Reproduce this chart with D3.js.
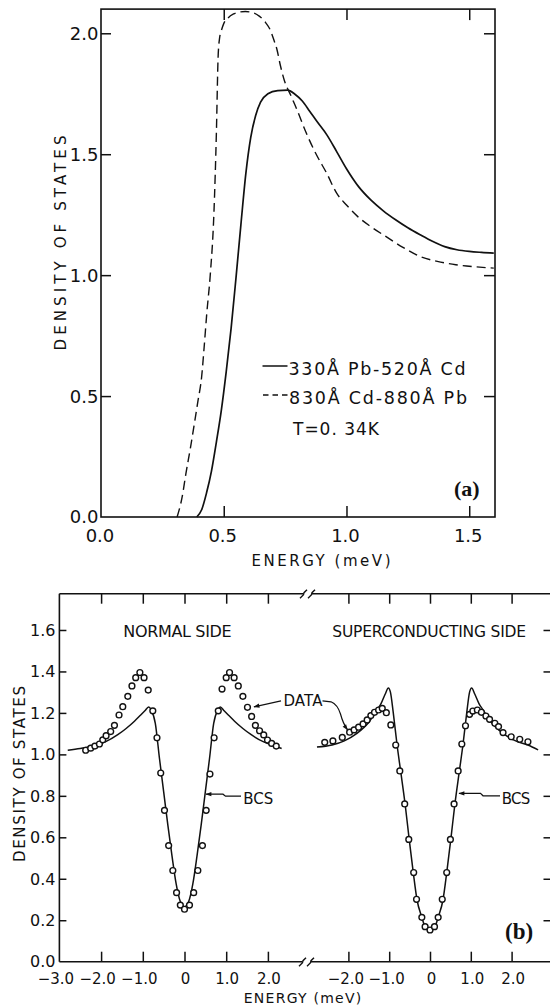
<!DOCTYPE html>
<html><head><meta charset="utf-8">
<script src="https://cdn.jsdelivr.net/npm/d3@7"></script>
<style>
html,body{margin:0;padding:0;background:#fff;}
svg{display:block;}
text{font-family:"DejaVu Sans",sans-serif;fill:#111;}
</style></head><body>
<svg id="chart" width="550" height="1005"></svg>
<script>
// ---------------- Panel (a) data ----------------
const aSolidEnergy = [0.39,0.41,0.43,0.45,0.47,0.49,0.51,0.53,0.55,0.57,0.59,0.61,0.63,0.65,0.68,0.72,0.76,0.79,0.82,0.85,0.88,0.92,0.96,1.00,1.05,1.10,1.15,1.20,1.25,1.30,1.35,1.40,1.45,1.50,1.55,1.60];
const aSolidDos    = [0,0.03,0.10,0.19,0.31,0.44,0.60,0.78,0.99,1.21,1.42,1.57,1.66,1.715,1.75,1.763,1.765,1.748,1.72,1.678,1.635,1.58,1.511,1.44,1.365,1.31,1.266,1.229,1.196,1.167,1.14,1.118,1.105,1.098,1.094,1.091];
const aDashedEnergy = [0.31,0.33,0.346,0.365,0.381,0.395,0.41,0.42,0.431,0.445,0.46,0.47,0.477,0.483,0.49,0.50,0.517,0.54,0.56,0.588,0.62,0.646,0.67,0.689,0.705,0.717,0.73,0.746,0.775,0.80,0.831,0.874,0.92,0.96,1.00,1.046,1.10,1.16,1.23,1.30,1.37,1.445,1.52,1.60];
const aDashedDos    = [0,0.08,0.18,0.29,0.39,0.48,0.58,0.70,0.843,1.0,1.257,1.587,1.90,1.98,2.01,2.04,2.063,2.08,2.087,2.09,2.085,2.07,2.045,2.015,1.97,1.932,1.87,1.808,1.739,1.68,1.60,1.505,1.42,1.339,1.29,1.242,1.20,1.16,1.115,1.077,1.057,1.043,1.035,1.029];
const aXTickValues = [0.5, 1.0, 1.5];
const aXLabelValues = [0.0, 0.5, 1.0, 1.5];
const aYTickValues = [0.5, 1.0, 1.5, 2.0];
const aYLabelValues = [0.0, 0.5, 1.0, 1.5, 2.0];
const aLegendLabels = ["330Å Pb-520Å Cd", "830Å Cd-880Å Pb"];
const aTemperatureLabel = "T=0. 34K";

// ---------------- Panel (b) data ----------------
const bNormalBcsEnergy = [-2.8,-2.5,-2.2,-1.9,-1.6,-1.4,-1.2,-1.05,-0.95,-0.86,-0.8,-0.7,-0.6,-0.5,-0.4,-0.3,-0.2,-0.1,0,0.1,0.2,0.3,0.4,0.5,0.6,0.7,0.8,0.86,0.95,1.05,1.2,1.4,1.6,1.9,2.1,2.33];
const bNormalBcsDos    = [1.02,1.028,1.04,1.06,1.095,1.125,1.16,1.19,1.21,1.228,1.215,1.15,0.98,0.82,0.66,0.51,0.375,0.29,0.265,0.29,0.375,0.51,0.66,0.82,0.98,1.15,1.215,1.228,1.21,1.19,1.16,1.125,1.095,1.06,1.045,1.028];
const bNormalDataEnergy = [-2.37,-2.25,-2.15,-2.04,-1.96,-1.88,-1.77,-1.68,-1.57,-1.48,-1.36,-1.26,-1.17,-1.07,-0.97,-0.87,-0.76,-0.66,-0.57,-0.48,-0.38,-0.28,-0.19,-0.10,0.0,0.12,0.22,0.32,0.43,0.52,0.61,0.71,0.81,0.90,1.00,1.08,1.19,1.29,1.40,1.51,1.61,1.70,1.80,1.90,1.99,2.09,2.20];
const bNormalDataDos    = [1.02,1.03,1.04,1.05,1.07,1.09,1.11,1.14,1.19,1.23,1.28,1.33,1.37,1.395,1.37,1.31,1.21,1.08,0.91,0.73,0.56,0.44,0.333,0.273,0.253,0.273,0.333,0.44,0.56,0.73,0.905,1.08,1.21,1.315,1.37,1.395,1.37,1.33,1.28,1.227,1.183,1.14,1.114,1.094,1.069,1.053,1.04];
const bSuperBcsEnergy = [-2.77,-2.4,-2.1,-1.8,-1.5,-1.3,-1.2,-1.1,-1.02,-0.97,-0.9,-0.81,-0.72,-0.61,-0.51,-0.41,-0.32,-0.2,-0.12,0,0.12,0.2,0.32,0.41,0.51,0.61,0.72,0.81,0.9,0.97,1.02,1.1,1.2,1.3,1.5,1.8,2.1,2.4,2.65];
const bSuperBcsDos    = [1.035,1.045,1.065,1.10,1.155,1.215,1.245,1.29,1.32,1.30,1.20,1.05,0.92,0.76,0.59,0.43,0.30,0.214,0.169,0.153,0.169,0.214,0.30,0.43,0.59,0.76,0.92,1.05,1.20,1.30,1.32,1.29,1.245,1.215,1.155,1.10,1.065,1.045,1.022];
const bSuperDataEnergy = [-2.58,-2.38,-2.15,-1.97,-1.86,-1.75,-1.64,-1.54,-1.45,-1.36,-1.26,-1.17,-1.07,-0.96,-0.84,-0.74,-0.62,-0.52,-0.40,-0.33,-0.20,-0.12,0.0,0.11,0.20,0.30,0.41,0.50,0.59,0.69,0.78,0.87,0.97,1.05,1.16,1.26,1.37,1.46,1.59,1.68,1.79,1.99,2.20,2.40];
const bSuperDataDos    = [1.058,1.065,1.082,1.107,1.118,1.131,1.147,1.166,1.187,1.203,1.214,1.222,1.201,1.142,1.045,0.92,0.761,0.59,0.43,0.301,0.214,0.169,0.153,0.169,0.214,0.301,0.43,0.59,0.761,0.92,1.05,1.138,1.193,1.209,1.214,1.203,1.185,1.169,1.15,1.134,1.105,1.085,1.073,1.061];
const bYTickValues = [0.2,0.4,0.6,0.8,1.0,1.2,1.4,1.6];
const bYLabelValues = [0.0,0.2,0.4,0.6,0.8,1.0,1.2,1.4,1.6];
const bXTickValues = [-2,-1,0,1,2];
const bXLeftLabelValues = [-3,-2,-1,0,1,2];
const bXRightLabelValues = [-2,-1,0,1,2];
const bSideLabels = ["NORMAL SIDE", "SUPERCONDUCTING SIDE"];

// ---------------- Drawing ----------------
const svg = d3.select("#chart");
const INK = "#111";
const zip = (xs, ys) => xs.map((x, i) => [x, ys[i]]);
const fmt1 = d3.format(".1f");

svg.append("defs").append("marker")
  .attr("id","arrow").attr("viewBox","0 0 10 10").attr("refX",9).attr("refY",5)
  .attr("markerWidth",7).attr("markerHeight",6).attr("orient","auto-start-reverse")
  .attr("markerUnits","userSpaceOnUse")
  .append("path").attr("d","M0,1.5 L10,5 L0,8.5 Z").attr("fill",INK);

function cleanAxis(g){ g.select(".domain").remove(); g.selectAll("line").attr("stroke",INK).attr("stroke-width",1.5); g.selectAll("text").remove(); }

// ===== Panel (a) =====
const xa = d3.scaleLinear().domain([0, 1.605]).range([101, 495]);
const ya = d3.scaleLinear().domain([0, 2.1]).range([517, 9.1]);
const gA = svg.append("g");

gA.append("rect").attr("x", xa(0)).attr("y", ya(2.1))
  .attr("width", xa(1.605) - xa(0)).attr("height", ya(0) - ya(2.1))
  .attr("fill","none").attr("stroke",INK).attr("stroke-width",1.6);

gA.append("g").attr("transform",`translate(${xa(0)},0)`)
  .call(d3.axisRight(ya).tickValues(aYTickValues).tickSize(10).tickFormat("")).call(cleanAxis);
gA.append("g").attr("transform",`translate(${xa(1.605)},0)`)
  .call(d3.axisLeft(ya).tickValues(aYTickValues).tickSize(11).tickFormat("")).call(cleanAxis);
gA.append("g").attr("transform",`translate(0,${ya(0)})`)
  .call(d3.axisTop(xa).tickValues(aXTickValues).tickSize(11).tickFormat("")).call(cleanAxis);
gA.append("g").attr("transform",`translate(0,${ya(2.1)})`)
  .call(d3.axisBottom(xa).tickValues(aXTickValues).tickSize(11).tickFormat("")).call(cleanAxis);

gA.selectAll("text.ylab").data(aYLabelValues).join("text")
  .attr("x", 98.5).attr("y", d => ya(d)).attr("dy","0.36em")
  .attr("text-anchor","end").attr("font-size",18).text(d => fmt1(d));
gA.selectAll("text.xlab").data(aXLabelValues).join("text")
  .attr("x", d => xa(d) - 1).attr("y", 541.5)
  .attr("text-anchor","middle").attr("font-size",18).text(d => fmt1(d));

gA.append("text").attr("x", 321).attr("y", 566).attr("text-anchor","middle")
  .attr("font-size",15).attr("textLength",139).attr("lengthAdjust","spacing").text("ENERGY  (meV)");
gA.append("text").attr("transform","translate(66,243) rotate(-90)").attr("text-anchor","middle")
  .attr("font-size",15).attr("textLength",215).attr("lengthAdjust","spacing").text("DENSITY  OF  STATES");

const lineA = d3.line().x(d => xa(d[0])).y(d => ya(d[1])).curve(d3.curveMonotoneX);
gA.append("path").attr("d", lineA(zip(aSolidEnergy, aSolidDos)))
  .attr("fill","none").attr("stroke",INK).attr("stroke-width",1.7);
gA.append("path").attr("d", lineA(zip(aDashedEnergy, aDashedDos)))
  .attr("fill","none").attr("stroke",INK).attr("stroke-width",1.4).attr("stroke-dasharray","9,5");

// legend
gA.append("line").attr("x1",262.5).attr("x2",287.5).attr("y1",366).attr("y2",366)
  .attr("stroke",INK).attr("stroke-width",1.5);
gA.append("text").attr("x",288.5).attr("y",375).attr("font-size",17.5)
  .attr("textLength",177).attr("lengthAdjust","spacing").text(aLegendLabels[0]);
gA.append("line").attr("x1",263).attr("x2",288).attr("y1",395).attr("y2",395)
  .attr("stroke",INK).attr("stroke-width",1.4).attr("stroke-dasharray","5.5,4");
gA.append("text").attr("x",289).attr("y",403.5).attr("font-size",17.5)
  .attr("textLength",178).attr("lengthAdjust","spacing").text(aLegendLabels[1]);
gA.append("text").attr("x",293).attr("y",435).attr("font-size",17)
  .attr("textLength",86).attr("lengthAdjust","spacing").text(aTemperatureLabel);
gA.append("text").attr("x",454).attr("y",496).attr("font-size",22)
  .style("font-family","'Liberation Serif',serif").attr("font-weight","bold").text("(a)");

// ===== Panel (b) =====
const xbl = d3.scaleLinear().domain([-3, 3]).range([59.4, 309.6]);
const xbr = d3.scaleLinear().domain([-3, 3]).range([307.6, 552.4]);
const yb = d3.scaleLinear().domain([0, 1.775]).range([961.7, 593.7]);
const gB = svg.append("g");
const yTop = yb(1.775), yBot = yb(0), xLeft = xbl(-3), xRight = 551.5;

// frame pieces (with axis break)
const frame = [
  [xLeft, yTop, xLeft, yBot],
  [xLeft, yTop, 303.5, yTop], [312, yTop, xRight, yTop],
  [xLeft, yBot, 302, yBot], [311, yBot, xRight, yBot],
  [xRight, yTop, xRight, yBot]
];
gB.selectAll("line.frame").data(frame).join("line")
  .attr("x1", d => d[0]).attr("y1", d => d[1]).attr("x2", d => d[2]).attr("y2", d => d[3])
  .attr("stroke",INK).attr("stroke-width",1.6);
// break marks
function breakMarks(cx, cy){
  [cx - 4.5, cx + 3.5].forEach(x => {
    gB.append("path").attr("d", `M${x-3.5},${cy+4.5} L${x},${cy+1} L${x+0.5},${cy-1} L${x+3.5},${cy-4}`)
      .attr("fill","none").attr("stroke",INK).attr("stroke-width",1.4);
  });
}
breakMarks(308, yTop);
breakMarks(307, yBot);

gB.append("g").attr("transform",`translate(${xLeft},0)`)
  .call(d3.axisRight(yb).tickValues(bYTickValues).tickSize(7).tickFormat("")).call(cleanAxis);
gB.append("g").attr("transform",`translate(${xRight},0)`)
  .call(d3.axisLeft(yb).tickValues(bYTickValues).tickSize(8).tickFormat("")).call(cleanAxis);
[xbl, xbr].forEach(sc => {
  gB.append("g").attr("transform",`translate(0,${yBot})`)
    .call(d3.axisTop(sc).tickValues(bXTickValues).tickSize(10).tickFormat("")).call(cleanAxis);
  gB.append("g").attr("transform",`translate(0,${yTop})`)
    .call(d3.axisBottom(sc).tickValues(bXTickValues).tickSize(10).tickFormat("")).call(cleanAxis);
});

gB.selectAll("text.ylab").data(bYLabelValues).join("text")
  .attr("x", 55.5).attr("y", d => yb(d)).attr("dy","0.36em")
  .attr("text-anchor","end").attr("font-size",16).text(d => fmt1(d));
const xLabelText = d => d === 0 ? "0" : fmt1(d);
gB.selectAll("text.xl").data(bXLeftLabelValues).join("text")
  .attr("x", d => xbl(d) + (d < 0 ? -3.5 : 1)).attr("y", 984)
  .attr("text-anchor","middle").attr("font-size",15).text(xLabelText);
gB.selectAll("text.xr").data(bXRightLabelValues).join("text")
  .attr("x", d => xbr(d) + (d < 0 ? -2.5 : 1.5)).attr("y", 984)
  .attr("text-anchor","middle").attr("font-size",15).text(xLabelText);

gB.append("text").attr("x", 302.5).attr("y", 1003).attr("text-anchor","middle")
  .attr("font-size",14).attr("textLength",117.5).attr("lengthAdjust","spacing").text("ENERGY  (meV)");
gB.append("text").attr("transform","translate(25,774) rotate(-90)").attr("text-anchor","middle")
  .attr("font-size",15).attr("textLength",176).attr("lengthAdjust","spacing").text("DENSITY  OF  STATES");

gB.append("text").attr("x",123.3).attr("y",636.7).attr("font-size",16)
  .attr("textLength",108.3).attr("lengthAdjust","spacing").text(bSideLabels[0]);
gB.append("text").attr("x",332.3).attr("y",636.7).attr("font-size",15.5)
  .attr("textLength",193.7).attr("lengthAdjust","spacing").text(bSideLabels[1]);

const lineNormal = d3.line().x(d => xbl(d[0])).y(d => yb(d[1])).curve(d3.curveMonotoneX);
const lineSuper = d3.line().x(d => xbr(d[0])).y(d => yb(d[1])).curve(d3.curveMonotoneX);
gB.append("path").attr("d", lineNormal(zip(bNormalBcsEnergy, bNormalBcsDos)))
  .attr("fill","none").attr("stroke",INK).attr("stroke-width",1.5);
gB.append("path").attr("d", lineSuper(zip(bSuperBcsEnergy, bSuperBcsDos)))
  .attr("fill","none").attr("stroke",INK).attr("stroke-width",1.5);

gB.selectAll("circle.n").data(zip(bNormalDataEnergy, bNormalDataDos)).join("circle")
  .attr("cx", d => xbl(d[0])).attr("cy", d => yb(d[1])).attr("r", 2.9)
  .attr("fill","#fff").attr("stroke",INK).attr("stroke-width",1.4);
gB.selectAll("circle.s").data(zip(bSuperDataEnergy, bSuperDataDos)).join("circle")
  .attr("cx", d => xbr(d[0])).attr("cy", d => yb(d[1])).attr("r", 2.9)
  .attr("fill","#fff").attr("stroke",INK).attr("stroke-width",1.4);

// annotations
gB.append("text").attr("x",283.4).attr("y",706.3).attr("font-size",15)
  .attr("textLength",39).attr("lengthAdjust","spacing").text("DATA");
gB.append("path").attr("d","M281,700.8 L254,706.8").attr("fill","none")
  .attr("stroke",INK).attr("stroke-width",1.2).attr("marker-end","url(#arrow)");
gB.append("path").attr("d","M322.5,700.8 L331,701.8 Q337.5,704.5 340.5,714 Q343,723.5 347.5,729.8").attr("fill","none")
  .attr("stroke",INK).attr("stroke-width",1.2).attr("marker-end","url(#arrow)");

gB.append("text").attr("x",243.3).attr("y",804).attr("font-size",15)
  .attr("textLength",30).attr("lengthAdjust","spacing").text("BCS");
gB.append("path").attr("d","M241,796.2 L225.5,796.2 L223,794.2 L206,794.2").attr("fill","none")
  .attr("stroke",INK).attr("stroke-width",1.2).attr("marker-end","url(#arrow)");
gB.append("text").attr("x",501.7).attr("y",804).attr("font-size",15)
  .attr("textLength",28.5).attr("lengthAdjust","spacing").text("BCS");
gB.append("path").attr("d","M500,795.8 L483,795.8 L480.5,793.4 L459,793.4").attr("fill","none")
  .attr("stroke",INK).attr("stroke-width",1.2).attr("marker-end","url(#arrow)");

gB.append("text").attr("x",505).attr("y",939).attr("font-size",23)
  .style("font-family","'Liberation Serif',serif").attr("font-weight","bold").text("(b)");
</script>
</body></html>
